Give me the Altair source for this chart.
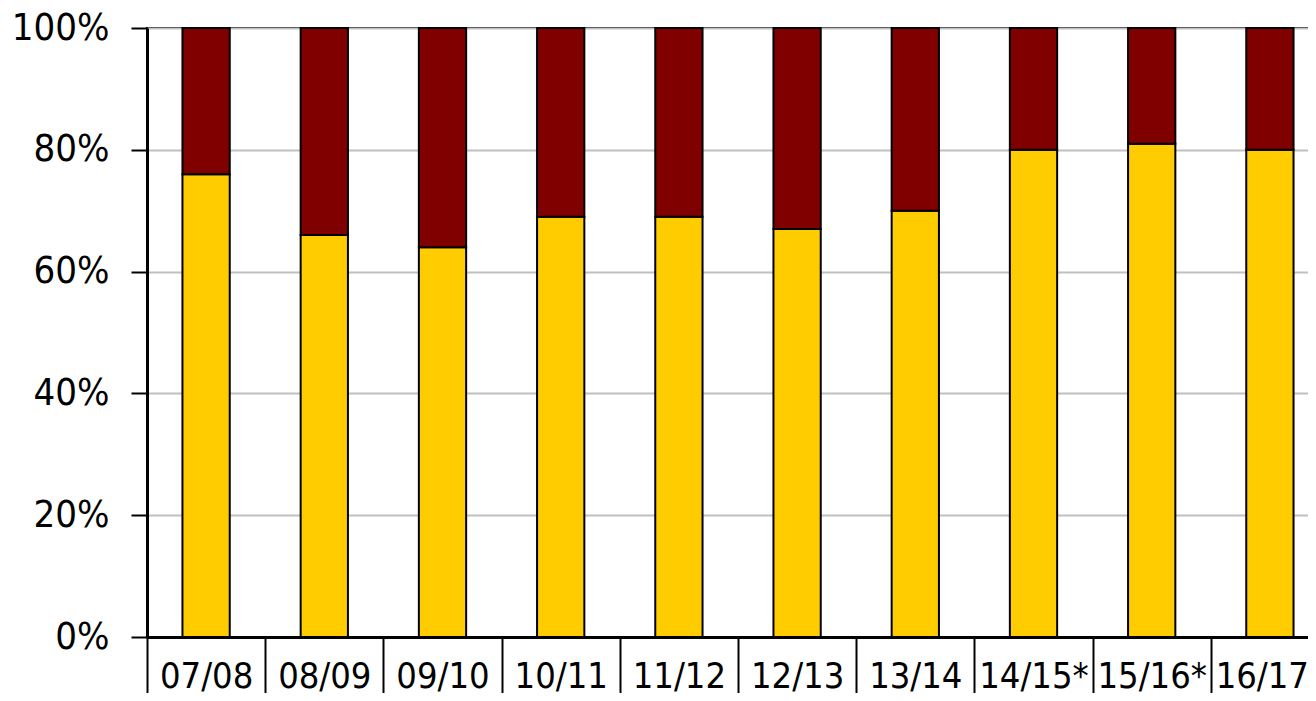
import altair as alt
import pandas as pd

seasons = ["07/08", "08/09", "09/10", "10/11", "11/12", "12/13", "13/14", "14/15*", "15/16*", "16/17*"]
share_yellow = [76, 66, 64, 69, 69, 67, 70, 80, 81, 80]
share_red = [24, 34, 36, 31, 31, 33, 30, 20, 19, 20]
series_names = ["A", "B"]
series_colors = ["#FFCC00", "#800000"]

rows = []
for s, a, b in zip(seasons, share_yellow, share_red):
    rows.append({"season": s, "series": series_names[0], "value": a, "order": 0})
    rows.append({"season": s, "series": series_names[1], "value": b, "order": 1})
df = pd.DataFrame(rows)

FONT = "DejaVu Sans Condensed, Liberation Sans Narrow, sans-serif"

chart = alt.Chart(df).mark_bar(stroke="black", strokeWidth=2, width=alt.RelativeBandSize(0.4)).encode(
    x=alt.X("season:N", sort=seasons,
            scale=alt.Scale(paddingInner=0, paddingOuter=0),
            axis=alt.Axis(title=None, labelAngle=0, tickBand="extent", tickSize=70,
                          tickColor="black", tickWidth=2, domainColor="black", domainWidth=3,
                          labelPadding=-48, labelFontSize=36, labelFont=FONT, labelColor="black",
                          grid=False)),
    y=alt.Y("value:Q", stack="zero",
            scale=alt.Scale(domain=[0, 100], nice=False),
            axis=alt.Axis(title=None, values=[0, 20, 40, 60, 80, 100],
                          labelExpr="datum.value + '%'", tickSize=16, tickColor="black",
                          tickWidth=2, domainColor="black", domainWidth=3, labelPadding=22,
                          labelFontSize=38, labelFont=FONT, labelColor="black",
                          gridColor="#c0c0c0", gridWidth=2)),
    color=alt.Color("series:N", scale=alt.Scale(domain=series_names, range=series_colors), legend=None),
    order=alt.Order("order:Q"),
).properties(
    width=1182, height=609,
    autosize=alt.AutoSizeParams(type="none"),
    padding={"left": 139, "top": 20, "right": -21, "bottom": 56},
).configure_view(stroke="black", strokeWidth=2)

chart.save("out.html", embed_options={"renderer": "svg", "actions": False})
